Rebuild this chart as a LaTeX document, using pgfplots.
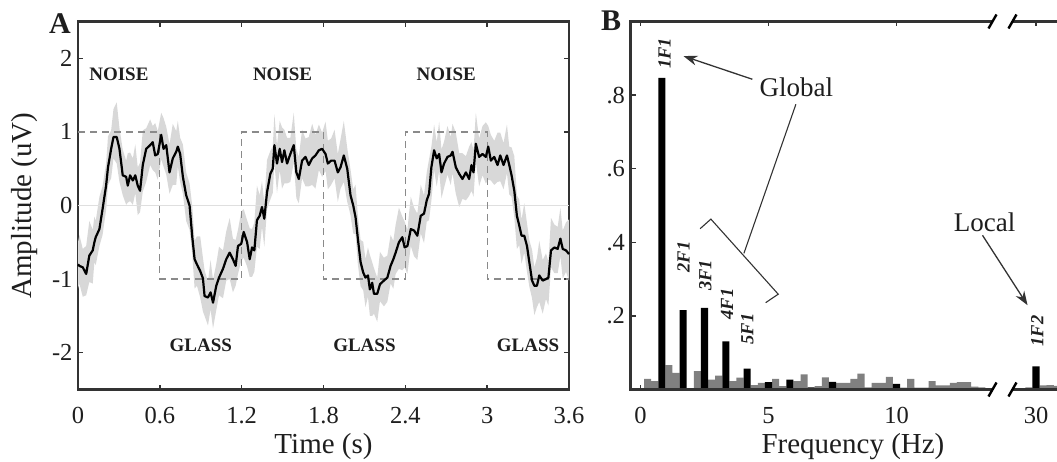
\documentclass[border=0pt]{standalone}
\usepackage{pgfplots}
\pgfplotsset{compat=1.18}
\usepackage{pgfplotstable}
\usepgfplotslibrary{fillbetween}
\usetikzlibrary{arrows.meta}
\usepackage{fontspec}
\setmainfont{Liberation Serif}
\definecolor{axc}{HTML}{333333}
\definecolor{txc}{HTML}{1E1E1E}
\definecolor{bandc}{HTML}{D8D8D8}
\definecolor{dashc}{HTML}{8A8A8A}
\definecolor{barg}{HTML}{808080}

\pgfplotstableread{
t m lo hi
0.00 -0.80 -1.13 -0.50
0.01 -0.82 -1.06 -0.40
0.035 -0.84 -1.24 -0.59
0.06 -0.93 -1.22 -0.55
0.083 -0.68 -1.04 -0.21
0.108 -0.61 -1.06 -0.33
0.12 -0.50 -0.77 -0.15
0.13 -0.43 -0.81 -0.21
0.157 -0.32 -0.55 0.12
0.18 -0.05 -0.40 0.26
0.206 0.27 -0.06 0.57
0.22 0.52 0.28 0.94
0.243 0.77 0.37 1.02
0.26 0.93 0.64 1.31
0.284 0.93 0.57 1.40
0.304 0.77 0.32 1.05
0.328 0.41 0.14 0.76
0.353 0.39 0.01 0.61
0.365 0.27 0.04 0.71
0.382 0.41 0.06 0.72
0.402 0.34 0.01 0.64
0.42 0.41 0.17 0.83
0.438 0.27 -0.13 0.52
0.455 0.20 -0.09 0.58
0.475 0.55 0.19 1.02
0.50 0.77 0.32 1.05
0.529 0.82 0.55 1.17
0.548 0.86 0.48 1.08
0.566 0.68 0.45 1.12
0.585 0.70 0.35 1.01
0.61 0.96 0.63 1.26
0.627 0.77 0.53 1.19
0.647 0.82 0.42 1.07
0.671 0.45 0.16 0.83
0.695 0.64 0.28 1.11
0.72 0.73 0.28 1.01
0.732 0.80 0.53 1.15
0.749 0.70 0.32 0.92
0.769 0.39 0.16 0.83
0.793 0.14 -0.21 0.45
0.818 0.00 -0.33 0.30
0.838 -0.43 -0.67 -0.01
0.855 -0.73 -1.13 -0.48
0.872 -0.80 -1.09 -0.42
0.896 -0.89 -1.25 -0.42
0.916 -0.99 -1.44 -0.71
0.928 -1.23 -1.50 -0.88
0.953 -1.25 -1.63 -1.03
0.972 -1.18 -1.41 -0.74
0.99 -1.32 -1.67 -1.01
1.014 -1.09 -1.42 -0.79
1.034 -0.98 -1.22 -0.56
1.063 -0.86 -1.26 -0.61
1.087 -0.73 -1.02 -0.35
1.112 -0.64 -1.00 -0.17
1.136 -0.73 -1.18 -0.45
1.156 -0.82 -1.09 -0.47
1.173 -0.55 -0.93 -0.33
1.197 -0.52 -0.75 -0.08
1.215 -0.36 -0.71 -0.05
1.24 -0.50 -0.83 -0.20
1.259 -0.73 -0.97 -0.31
1.276 -0.57 -0.97 -0.32
1.293 -0.61 -0.90 -0.23
1.312 -0.20 -0.56 0.27
1.332 -0.14 -0.59 0.14
1.349 -0.02 -0.29 0.33
1.366 -0.18 -0.56 0.04
1.386 0.18 -0.05 0.62
1.41 0.43 0.08 0.74
1.428 0.50 0.17 0.80
1.44 0.82 0.58 1.24
1.459 0.57 0.17 0.82
1.479 0.77 0.48 1.15
1.496 0.59 0.23 1.06
1.513 0.75 0.30 1.03
1.533 0.57 0.30 0.92
1.557 0.70 0.32 0.92
1.582 0.82 0.59 1.26
1.601 0.45 0.10 0.76
1.619 0.36 0.03 0.66
1.643 0.61 0.37 1.03
1.668 0.66 0.26 0.91
1.692 0.55 0.26 0.93
1.717 0.64 0.28 1.11
1.741 0.68 0.23 0.96
1.766 0.75 0.48 1.10
1.79 0.77 0.39 0.99
1.815 0.70 0.47 1.14
1.832 0.57 0.22 0.88
1.856 0.61 0.28 0.91
1.881 0.61 0.37 1.03
1.905 0.45 0.05 0.70
1.925 0.52 0.23 0.90
1.949 0.68 0.32 1.15
1.974 0.50 0.05 0.78
1.998 0.14 -0.13 0.49
2.018 0.00 -0.38 0.22
2.035 -0.16 -0.39 0.28
2.052 -0.45 -0.80 -0.14
2.072 -0.77 -1.10 -0.47
2.091 -0.91 -1.15 -0.49
2.108 -0.98 -1.38 -0.73
2.126 -0.95 -1.24 -0.57
2.14 -1.14 -1.50 -0.67
2.157 -1.05 -1.50 -0.77
2.17 -1.20 -1.47 -0.85
2.194 -1.20 -1.58 -0.98
2.214 -1.07 -1.30 -0.63
2.243 -1.02 -1.37 -0.71
2.268 -0.98 -1.31 -0.68
2.292 -0.82 -1.06 -0.40
2.312 -0.73 -1.13 -0.48
2.329 -0.64 -0.93 -0.26
2.353 -0.50 -0.86 -0.03
2.378 -0.43 -0.88 -0.15
2.395 -0.57 -0.84 -0.22
2.415 -0.55 -0.93 -0.33
2.44 -0.32 -0.55 0.12
2.464 -0.34 -0.69 -0.03
2.488 -0.41 -0.74 -0.11
2.513 -0.14 -0.38 0.28
2.537 -0.11 -0.51 0.14
2.557 0.07 -0.22 0.45
2.574 0.16 -0.20 0.63
2.591 0.52 0.07 0.80
2.611 0.75 0.48 1.10
2.63 0.64 0.26 0.86
2.648 0.70 0.47 1.14
2.665 0.45 0.10 0.76
2.684 0.57 0.24 0.87
2.709 0.66 0.42 1.08
2.733 0.68 0.28 0.93
2.746 0.73 0.44 1.11
2.77 0.52 0.16 0.99
2.795 0.43 -0.02 0.71
2.819 0.36 0.09 0.71
2.844 0.45 0.07 0.67
2.868 0.36 0.13 0.80
2.885 0.55 0.20 0.86
2.9 0.45 0.12 0.75
2.917 0.84 0.60 1.26
2.941 0.66 0.26 0.91
2.966 0.70 0.41 1.08
2.99 0.66 0.30 1.13
3.008 0.80 0.35 1.08
3.027 0.61 0.34 0.96
3.052 0.66 0.28 0.88
3.076 0.55 0.32 0.99
3.096 0.68 0.33 0.99
3.12 0.55 0.22 0.85
3.145 0.68 0.44 1.10
3.162 0.55 0.15 0.80
3.179 0.41 0.12 0.79
3.199 0.20 -0.16 0.67
3.218 -0.14 -0.59 0.14
3.235 -0.27 -0.54 0.08
3.252 -0.41 -0.79 -0.19
3.272 -0.41 -0.64 0.03
3.292 -0.55 -0.90 -0.24
3.309 -0.77 -1.10 -0.47
3.329 -1.02 -1.26 -0.60
3.346 -1.09 -1.49 -0.84
3.365 -1.09 -1.38 -0.71
3.382 -0.95 -1.31 -0.48
3.407 -1.02 -1.47 -0.74
3.431 -1.00 -1.27 -0.65
3.449 -0.98 -1.36 -0.76
3.468 -0.61 -0.84 -0.17
3.493 -0.57 -0.92 -0.26
3.517 -0.59 -0.92 -0.29
3.537 -0.45 -0.69 -0.03
3.554 -0.59 -0.99 -0.34
3.578 -0.61 -0.90 -0.23
3.6 -0.66 -1.02 -0.19
}\erpdata

\pgfplotstableread{
f a
0.278 0.029
0.556 0.023
1.111 0.066
1.389 0.045
1.944 0.003
2.222 0.050
2.778 0.027
3.056 0.038
3.611 0.023
3.889 0.032
4.444 0.012
4.722 0.018
5.278 0.029
5.556 0.009
6.111 0.023
6.389 0.041
6.944 0.009
7.222 0.033
7.778 0.018
8.056 0.018
8.333 0.029
8.611 0.043
8.889 0.006
9.167 0.018
9.444 0.018
9.722 0.034
10.278 0.005
10.556 0.029
10.833 0.005
11.111 0.005
11.389 0.023
11.667 0.011
11.944 0.011
12.222 0.018
12.500 0.020
12.778 0.020
13.056 0.008
13.333 0.006
14.894 0.004
15.172 0.006
15.728 0.011
16.006 0.012
16.283 0.010
}\greybins

\pgfplotstableread{
f a
0.833 0.847
1.667 0.216
2.500 0.222
3.333 0.131
4.167 0.057
5.000 0.020
5.833 0.027
6.667 0.006
7.500 0.021
10.000 0.015
15.450 0.063
}\harmbins

\pgfplotsset{
  myax/.style={
    scale only axis,
    axis line style={draw=axc, line width=2.2pt},
    tick style={draw=axc, line width=1.4pt},
    major tick length=5pt,
    tick align=inside,
    tick pos=both,
    /pgf/number format/assume math mode=true,
    ticklabel style={font=\fontsize{24.5}{27}\selectfont, text=txc},
    xticklabel style={anchor=base, yshift=-34pt},
    yticklabel style={xshift=-2pt},
    clip=false,
  },
}

\begin{document}
\begin{tikzpicture}

% ---------------- Panel A ----------------
\begin{axis}[myax,
  at={(78pt,71.5pt)}, anchor=south west,
  width=491pt, height=368pt,
  xmin=0, xmax=3.6, ymin=-2.5, ymax=2.5,
  xtick={0,0.6,1.2,1.8,2.4,3,3.6},
  xticklabels={0,0.6,1.2,1.8,2.4,3,3.6},
  ytick={-2,-1,0,1,2},
  yticklabels={-2,-1,0,1,2},
]
\addplot[gray!25, line width=1pt] coordinates {(0,0) (3.6,0)};
\addplot[name path=hi, draw=none] table[x=t,y=hi]{\erpdata};
\addplot[name path=lo, draw=none] table[x=t,y=lo]{\erpdata};
\addplot[fill=bandc, draw=none] fill between[of=hi and lo];
\addplot[dashc, line width=1.3pt, dash pattern=on 7pt off 5pt] coordinates {
  (0,1) (0.6,1) (0.6,-1) (1.2,-1) (1.2,1) (1.8,1) (1.8,-1) (2.4,-1) (2.4,1) (3,1) (3,-1) (3.6,-1)};
\addplot[black, line width=2.2pt, line join=round] table[x=t,y=m]{\erpdata};

\node[font=\bfseries\fontsize{19}{22}\selectfont, text=txc] at (axis cs:0.3,1.78) {NOISE};
\node[font=\bfseries\fontsize{19}{22}\selectfont, text=txc] at (axis cs:1.5,1.78) {NOISE};
\node[font=\bfseries\fontsize{19}{22}\selectfont, text=txc] at (axis cs:2.7,1.78) {NOISE};
\node[font=\bfseries\fontsize{19}{22}\selectfont, text=txc] at (axis cs:0.9,-1.9) {GLASS};
\node[font=\bfseries\fontsize{19}{22}\selectfont, text=txc] at (axis cs:2.1,-1.9) {GLASS};
\node[font=\bfseries\fontsize{19}{22}\selectfont, text=txc] at (axis cs:3.3,-1.9) {GLASS};
\node[anchor=base, yshift=-64pt, font=\fontsize{29}{32}\selectfont, text=txc] at (rel axis cs:0.5,0) {Time (s)};
\node[rotate=90, yshift=53pt, font=\fontsize{29}{32}\selectfont, text=txc] at (rel axis cs:0,0.5) {Amplitude (uV)};
\end{axis}

% ---------------- Panel B ----------------
\begin{axis}[myax,
  at={(630.5pt,71.5pt)}, anchor=south west,
  width=445.2pt, height=368pt,
  xmin=-0.39, xmax=17, ymin=0, ymax=1,
  axis line style={draw=none},
  xtick={0,5,10,15.45},
  xticklabels={0,5,10,30},
  ytick={0.2,0.4,0.6,0.8},
  yticklabels={.2,.4,.6,.8},
]
\addplot[ybar, bar width=0.2778, bar shift=0pt, fill=barg, draw=none] table[x=f,y=a]{\greybins};
\addplot[ybar, bar width=0.2778, bar shift=0pt, fill=black, draw=none] table[x=f,y=a]{\harmbins};

% broken axis frame
\draw[axc, line width=2.2pt] (axis cs:13.75,1) -- (axis cs:-0.39,1) -- (axis cs:-0.39,0) -- (axis cs:13.75,0);
\draw[axc, line width=2.2pt] (axis cs:14.53,0) -- (axis cs:17,0) -- (axis cs:17,1) -- (axis cs:14.53,1);
\draw[black, line width=2.4pt] (axis cs:13.75,0) ++(-4pt,-7pt) -- ++(8pt,14pt);
\draw[black, line width=2.4pt] (axis cs:13.75,1) ++(-4pt,-7pt) -- ++(8pt,14pt);
\draw[black, line width=2.4pt] (axis cs:14.53,0) ++(-4pt,-7pt) -- ++(8pt,14pt);
\draw[black, line width=2.4pt] (axis cs:14.53,1) ++(-4pt,-7pt) -- ++(8pt,14pt);

% harmonic labels
\node[rotate=90, font=\bfseries\itshape\fontsize{18.5}{21}\selectfont, text=txc, inner sep=0pt] at (axis cs:0.94,0.913) {1F1};
\node[rotate=90, font=\bfseries\itshape\fontsize{18.5}{21}\selectfont, text=txc, inner sep=0pt] at (axis cs:1.68,0.36) {2F1};
\node[rotate=90, font=\bfseries\itshape\fontsize{18.5}{21}\selectfont, text=txc, inner sep=0pt] at (axis cs:2.53,0.31) {3F1};
\node[rotate=90, font=\bfseries\itshape\fontsize{18.5}{21}\selectfont, text=txc, inner sep=0pt] at (axis cs:3.38,0.232) {4F1};
\node[rotate=90, font=\bfseries\itshape\fontsize{18.5}{21}\selectfont, text=txc, inner sep=0pt] at (axis cs:4.17,0.164) {5F1};
\node[rotate=90, font=\bfseries\itshape\fontsize{18.5}{21}\selectfont, text=txc, inner sep=0pt] at (axis cs:15.5,0.159) {1F2};

% Global annotation
\node[font=\fontsize{27}{30}\selectfont, text=txc] at (axis cs:6.09,0.821) {Global};
\draw[axc, line width=1.3pt, -{Stealth[length=14pt,width=10pt]}] (axis cs:4.37,0.843) -- (axis cs:1.68,0.906);
\draw[axc, line width=1.1pt] (axis cs:6.07,0.775) -- (axis cs:4.04,0.370);
\draw[axc, line width=1.1pt] (axis cs:2.33,0.437) -- (axis cs:2.75,0.463) -- (axis cs:5.38,0.259) -- (axis cs:4.89,0.236);

% Local annotation
\node[font=\fontsize{27}{30}\selectfont, text=txc] at (axis cs:13.44,0.455) {Local};
\draw[axc, line width=1.3pt, -{Stealth[length=14pt,width=10pt]}] (axis cs:13.36,0.419) -- (axis cs:15.12,0.229);

\node[anchor=base, yshift=-64pt, font=\fontsize{29}{32}\selectfont, text=txc] at (axis cs:8.3,0) {Frequency (Hz)};
\end{axis}

\node[font=\bfseries\fontsize{30}{32}\selectfont, text=txc] at (60pt,437.5pt) {A};
\node[font=\bfseries\fontsize{30}{32}\selectfont, text=txc] at (611pt,440pt) {B};

\pgfresetboundingbox
\useasboundingbox (0pt,0pt) rectangle (1057pt,461pt);
\end{tikzpicture}
\end{document}
